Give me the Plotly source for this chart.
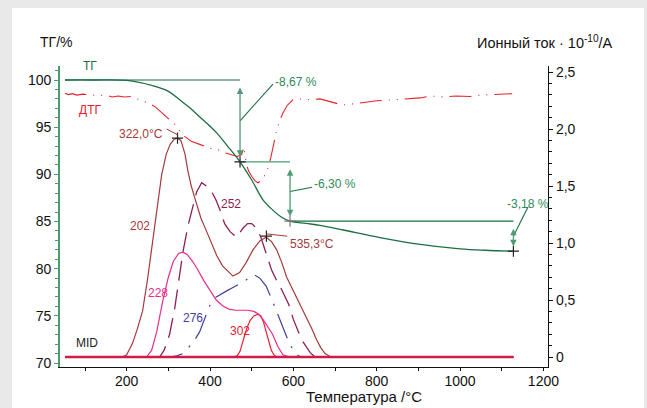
import plotly.graph_objects as go

# ---------------- data ----------------
tg_t = [52, 120, 200, 262, 300, 327, 350, 375, 395, 416, 440, 472, 500, 527, 551, 570, 592,
        630, 664, 720, 808, 900, 1000, 1060, 1128]
tg_v = [100.0, 100.0, 99.95, 99.4, 98.8, 97.9, 97.1, 96.1, 95.3, 94.4, 93.1, 91.33, 89.4, 87.3,
        86.2, 85.5, 85.03, 84.8, 84.6, 84.1, 83.3, 82.6, 82.1, 81.95, 81.85]

dtg_t = [52, 60, 70, 80, 95, 110, 130, 150, 165, 180, 195, 210, 225, 240, 255, 270, 285, 300, 315,
         325, 340, 355, 375, 390, 405, 420, 435, 450, 465, 476, 481, 486, 492, 500, 508, 515, 522,
         530, 538, 545, 552, 560, 568, 575, 585, 599, 620, 640, 664, 690, 717, 740, 772, 800, 840,
         870, 904, 930, 960, 990, 1024, 1050, 1075, 1100, 1125]
dtg_v = [98.6, 98.45, 98.55, 98.4, 98.5, 98.45, 98.35, 98.4, 98.2, 98.3, 98.2, 98.25, 98.0, 97.8,
         97.5, 97.1, 96.5, 95.9, 95.3, 94.7, 94.0, 93.5, 93.2, 92.95, 92.7, 92.6, 92.3, 92.1, 91.9,
         92.1, 92.9, 91.4, 90.4, 89.8, 89.3, 89.1, 89.3, 89.8, 90.5, 91.6, 93.2, 94.7, 95.8, 96.5,
         97.3, 97.9, 98.0, 97.9, 98.0, 97.7, 97.35, 97.45, 97.6, 97.8, 97.9, 98.0, 98.1, 98.3, 98.2,
         98.3, 98.25, 98.4, 98.45, 98.5, 98.55]

# mass-loss steps: temperature of step end, TG level
step_t = [472, 592, 1128]
step_lvl = [100.0, 91.33, 85.03, 81.85]
step_lbl = ["-8,67 %", "-6,30 %", "-3,18 %"]

# ion current (MID), 10^-10 A
m202_t = [52, 150, 190, 200, 214, 225, 238, 250, 262, 275, 284, 295, 305, 314, 322, 330, 340, 347,
          355, 363, 378, 392, 407, 416, 430, 443, 455, 471, 487, 503, 520, 535, 548, 560, 572, 584,
          596, 608, 620, 632, 644, 656, 666, 676, 690, 1128]
m202_v = [0, 0, 0.0, 0.02, 0.12, 0.24, 0.40, 0.68, 1.02, 1.37, 1.60, 1.78, 1.87, 1.91, 1.92, 1.90,
          1.78, 1.63, 1.50, 1.40, 1.22, 1.10, 0.97, 0.89, 0.80, 0.75, 0.71, 0.74, 0.83, 0.94, 1.02,
          1.05, 1.01, 0.94, 0.83, 0.70, 0.61, 0.52, 0.43, 0.35, 0.25, 0.15, 0.08, 0.03, 0.0, 0]

m228_t = [52, 240, 248, 260, 272, 287, 300, 312, 325, 335, 345, 358, 370, 385, 400, 415, 430, 445,
          460, 475, 490, 505, 515, 527, 538, 550, 563, 575, 590, 600, 1128]
m228_v = [0, 0, 0.0, 0.06, 0.22, 0.50, 0.70, 0.84, 0.91, 0.92, 0.90, 0.84, 0.77, 0.67, 0.58, 0.50,
          0.45, 0.42, 0.41, 0.41, 0.41, 0.40, 0.38, 0.33, 0.27, 0.20, 0.09, 0.02, 0.0, 0, 0]

m252_t = [52, 279, 290, 303, 315, 325, 335, 347, 359, 368, 380, 395, 404, 414, 424, 435, 448, 464,
          479, 490, 500, 512, 522, 530, 543, 548, 560, 572, 589, 600, 620, 640, 652, 1128]
m252_v = [0, 0, 0.06, 0.20, 0.42, 0.65, 0.92, 1.15, 1.33, 1.45, 1.53, 1.49, 1.45, 1.38, 1.29, 1.17,
          1.10, 1.05, 1.13, 1.17, 1.17, 1.13, 1.05, 0.96, 0.82, 0.76, 0.67, 0.59, 0.46, 0.33, 0.15,
          0.04, 0.0, 0]

m276_t = [52, 303, 320, 335, 350, 365, 375, 387, 399, 412, 425, 440, 455, 470, 485, 497, 507, 520,
          535, 551, 563, 575, 587, 599, 612, 620, 1128]
m276_v = [0, 0, 0.01, 0.03, 0.09, 0.16, 0.22, 0.33, 0.45, 0.52, 0.55, 0.58, 0.61, 0.64, 0.67, 0.71,
          0.72, 0.69, 0.62, 0.48, 0.37, 0.26, 0.15, 0.06, 0.01, 0, 0]

m302_t = [52, 455, 465, 472, 480, 488, 496, 505, 515, 522, 528, 535, 541, 547, 553, 560, 1128]
m302_v = [0, 0, 0.01, 0.05, 0.15, 0.25, 0.32, 0.36, 0.375, 0.36, 0.31, 0.22, 0.13, 0.06, 0.02, 0, 0]

peak_t = [322.0, 535.3]
peak_v = [1.92, 1.06]
peak_lbl = ["322,0°C", "535,3°C"]

# ---------------- style ----------------
FONT = "Liberation Sans, Arial, sans-serif"
C_TG = "#1b6e40"
C_TGL = "#4f9c74"
C_AX = "#4a9a72"
C_DTG = "#e8202c"
C_202 = "#a33a3a"
C_228 = "#ec2a8c"
C_252 = "#8e1f55"
C_276 = "#40409e"
C_302 = "#ea2030"

fig = go.Figure()

# ion currents (right axis)
fig.add_trace(go.Scatter(x=m276_t, y=m276_v, yaxis="y2", mode="lines",
                         line=dict(color=C_276, width=1.2, dash="26px,9px,2px,9px")))
fig.add_trace(go.Scatter(x=m252_t, y=m252_v, yaxis="y2", mode="lines",
                         line=dict(color=C_252, width=1.3, dash="20px,9px")))
fig.add_trace(go.Scatter(x=m302_t, y=m302_v, yaxis="y2", mode="lines",
                         line=dict(color=C_302, width=1.2)))
fig.add_trace(go.Scatter(x=m228_t, y=m228_v, yaxis="y2", mode="lines",
                         line=dict(color=C_228, width=1.2)))
fig.add_trace(go.Scatter(x=m202_t, y=m202_v, yaxis="y2", mode="lines",
                         line=dict(color=C_202, width=1.2)))
fig.add_trace(go.Scatter(x=[m202_t[0], m202_t[-1]], y=[0, 0], yaxis="y2", mode="lines",
                         line=dict(color="#d01a4a", width=2.4)))
fig.add_trace(go.Scatter(x=peak_t, y=peak_v, yaxis="y2", mode="markers",
                         marker=dict(symbol="cross-thin", size=8, line=dict(width=1.2, color="#222"))))

# DTG (left axis coordinates)
fig.add_trace(go.Scatter(x=dtg_t, y=dtg_v, mode="lines",
                         line=dict(color=C_DTG, width=1.1, dash="22px,7px,1px,7px,1px,7px")))

# TG
fig.add_trace(go.Scatter(x=tg_t, y=tg_v, mode="lines", line=dict(color=C_TG, width=1.3, shape="spline")))

# step construction lines
starts = [tg_t[0]] + step_t[:-1]
for i in range(3):
    col = C_TG if i != 1 else C_TGL
    fig.add_trace(go.Scatter(x=[starts[i], step_t[i]], y=[step_lvl[i], step_lvl[i]], mode="lines",
                             line=dict(color=col, width=1.2)))
fig.add_trace(go.Scatter(x=step_t, y=step_lvl[1:], mode="markers",
                         marker=dict(symbol="cross-thin", size=8,
                                     line=dict(width=1.2, color=["#222", "#777", "#222"]))))

ann = []
shapes = []
label_dx = [79, 53, 35]
label_dy = [3.9, 0.45, 3.1]
label_shift = [(0, 2), (0, 3), (0, 3)]
for i in range(3):
    x = step_t[i]
    top, bot = step_lvl[i], step_lvl[i + 1]
    ann.append(dict(x=x, y=bot, ax=x, ay=top, xref="x", yref="y", axref="x", ayref="y",
                    text="", showarrow=True, arrowhead=2, arrowside="end+start", arrowsize=1,
                    arrowwidth=1.3, arrowcolor=C_TGL, standoff=5, startstandoff=6))
    mid = (top + bot) / 2
    lx, ly = x + label_dx[i], mid + label_dy[i]
    shapes.append(dict(type="line", xref="x", yref="y", x0=x, y0=mid, x1=lx, y1=ly,
                       line=dict(color=C_TG, width=1.1)))
    ann.append(dict(x=lx, y=ly, xref="x", yref="y", text=step_lbl[i], showarrow=False,
                    xanchor="left" if i < 2 else "center", yanchor="middle",
                    xshift=label_shift[i][0], yshift=label_shift[i][1],
                    font=dict(family=FONT, size=12, color="#2e8a5a")))

# peak leader lines and labels
shapes.append(dict(type="line", xref="x", yref="y2", x0=peak_t[0], y0=peak_v[0] + 0.03,
                   x1=peak_t[0] - 26, y1=peak_v[0] + 0.08, line=dict(color=C_202, width=1)))
ann.append(dict(x=peak_t[0] - 30, y=peak_v[0] + 0.04, xref="x", yref="y2", text=peak_lbl[0],
                showarrow=False, xanchor="right", font=dict(family=FONT, size=12, color=C_202)))
shapes.append(dict(type="line", xref="x", yref="y2", x0=peak_t[1], y0=peak_v[1] + 0.02,
                   x1=peak_t[1] + 50, y1=peak_v[1] + 0.0, line=dict(color=C_202, width=1)))
ann.append(dict(x=peak_t[1] + 52, y=peak_v[1] - 0.07, xref="x", yref="y2", text=peak_lbl[1],
                showarrow=False, xanchor="left", font=dict(family=FONT, size=12, color=C_202)))

# curve labels
curve_lbls = [("202", 231, 1.15, C_202), ("228", 275, 0.56, C_228), ("252", 450, 1.34, C_252),
              ("276", 359, 0.34, C_276), ("302", 472, 0.23, C_302), ("MID", 104, 0.12, "#222")]
for txt, x, y, c in curve_lbls:
    ann.append(dict(x=x, y=y, xref="x", yref="y2", text=txt, showarrow=False,
                    font=dict(family=FONT, size=12, color=c)))
ann.append(dict(x=113, y=101.2, xref="x", yref="y", text="ТГ", showarrow=False, yshift=3,
                font=dict(family=FONT, size=12, color=C_TG)))
ann.append(dict(x=112, y=96.8, xref="x", yref="y", text="ДТГ", showarrow=False,
                font=dict(family=FONT, size=12, color=C_DTG)))

# axis titles
ann.append(dict(x=-0.045, y=1.08, xref="paper", yref="paper", text="ТГ/%", showarrow=False,
                xanchor="left", yanchor="middle", font=dict(family=FONT, size=14, color="#111")))
ann.append(dict(x=1.137, y=1.08, xref="paper", yref="paper", text="Ионный ток · 10<sup>-10</sup>/A",
                showarrow=False, xanchor="right", yanchor="middle",
                font=dict(family=FONT, size=14.5, color="#111")))
ann.append(dict(x=0.623, y=-0.099, xref="paper", yref="paper", text="Температура /°C",
                showarrow=False, xanchor="center", yanchor="middle",
                font=dict(family=FONT, size=15, color="#111")))

# white panel
shapes.insert(0, dict(type="rect", xref="paper", yref="paper", x0=-0.0984, x1=1.1967,
                      y0=-0.2, y1=1.1927, fillcolor="white", line=dict(width=0), layer="below"))

fig.update_layout(
    width=647, height=408,
    margin=dict(l=60, r=99, t=66, b=41),
    paper_bgcolor="#e9e9e9", plot_bgcolor="white",
    showlegend=False,
    font=dict(family=FONT, size=14, color="#111"),
    annotations=ann, shapes=shapes,
    xaxis=dict(range=[40, 1211], tickvals=[200, 400, 600, 800, 1000, 1200],
               showline=True, linecolor="#111", linewidth=1.3, ticks="outside", ticklen=3,
               ticklabelstandoff=-2,
               tickcolor="#111", showgrid=False, zeroline=False,
               minor=dict(tickvals=[100, 300, 500, 700, 900, 1100], ticks="outside", ticklen=3,
                          tickcolor="#111")),
    yaxis=dict(range=[69.576, 101.484], tickvals=[70, 75, 80, 85, 90, 95, 100],
               showline=True, linecolor=C_AX, linewidth=1.8, ticks="outside", ticklen=4,
               tickcolor=C_AX, showgrid=False, zeroline=False,
               minor=dict(dtick=1, ticks="outside", ticklen=3, tickcolor=C_AX)),
    yaxis2=dict(range=[-0.0877, 2.553], overlaying="y", side="right",
                tickvals=[0, 0.5, 1.0, 1.5, 2.0, 2.5],
                ticktext=["0", "0,5", "1,0", "1,5", "2,0", "2,5"],
                showline=True, linecolor="#111", linewidth=1.3, ticks="outside", ticklen=4,
                tickcolor="#111", showgrid=False, zeroline=False,
                minor=dict(dtick=0.1, ticks="outside", ticklen=3, tickcolor="#111")),
)

fig.write_html("out.html")
